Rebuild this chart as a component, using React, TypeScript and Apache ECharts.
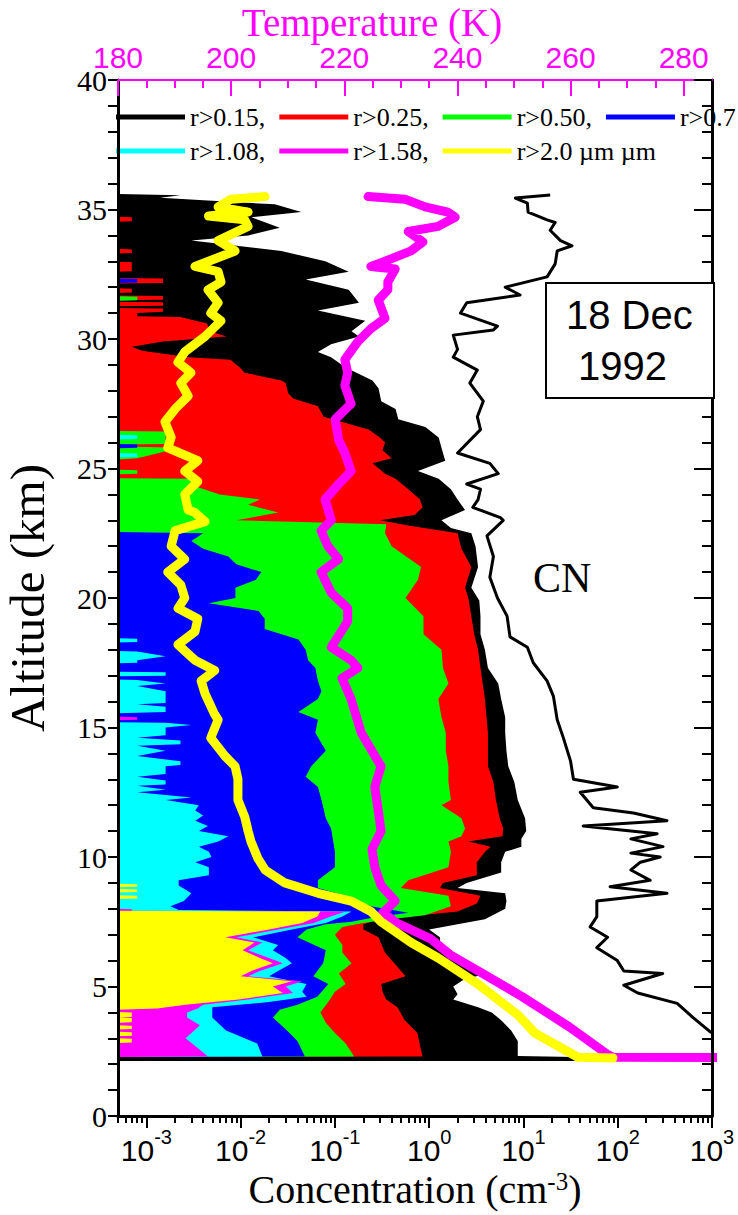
import React, { useEffect, useRef } from "react";
import * as echarts from "echarts";

const SERIF = "'Liberation Serif', 'Times New Roman', serif";
const SANS = "'Liberation Sans', Arial, sans-serif";

const X_MIN = 5e-4;
const X_MAX = 1000;
const T_MIN = 180;
const T_MAX = 285;

const tempMajorTicks = [180, 200, 220, 240, 260, 280];
const tempMinorTicks = [185, 190, 195, 205, 210, 215, 225, 230, 235, 245, 250, 255, 265, 270, 275];
const concMinorMultipliers = [2, 3, 4, 5, 6, 7, 8, 9];
const concDecadeStarts = [-4, -3, -2, -1, 0, 1, 2];

const legendRow1 = ["r>0.15,", "r>0.25,", "r>0.50,", "r>0.7"];
const legendRow2 = ["r>1.08,", "r>1.58,", "r>2.0 \u00b5m \u00b5m"];
const fillColors = ["#000000", "#ff0000", "#00ff00", "#0000ff", "#00ffff", "#ff00ff", "#ffff00"];

// [altitude km, concentration cm^-3]; 0 = no particles counted
const profR015 = [
  [35.6, 0], [35.55, 0.0023], [35.45, 0.0014], [35.2, 0.023], [34.9, 0.044], [34.7, 0.013], [34.3, 0.026],
  [34.0, 0.012], [33.8, 0.003], [33.4, 0.027], [33.0, 0.079], [32.6, 0.14], [32.3, 0.049], [31.9, 0.14],
  [31.4, 0.18], [31.1, 0.066], [30.7, 0.21], [30.3, 0.15], [30.1, 0.18], [29.8, 0.091], [29.5, 0.066],
  [29.3, 0.091], [28.9, 0.13], [28.4, 0.25], [28.1, 0.29], [27.6, 0.31], [27.3, 0.44], [26.9, 0.47],
  [26.6, 0.91], [26.2, 1.26], [25.8, 1.35], [25.3, 1.48], [24.9, 0.76], [24.6, 1.26], [24.2, 1.7],
  [23.8, 2.0], [23.4, 2.4], [23.0, 1.35], [22.7, 1.7], [22.5, 2.8], [22.0, 3.1], [21.2, 3.3], [20.4, 2.8],
  [19.9, 3.4], [19.3, 3.5], [18.6, 3.5], [18.0, 3.9], [17.3, 4.2], [16.7, 5.4], [16.1, 5.8], [15.4, 6.4],
  [14.8, 6.4], [14.1, 6.6], [13.5, 6.9], [12.9, 8.0], [12.2, 8.7], [11.5, 10.4], [11.0, 10.7], [10.7, 9.5],
  [10.4, 9.5], [10.2, 6.4], [9.8, 5.8], [9.4, 5.8], [9.0, 2.5], [8.8, 2.0], [8.6, 6.4], [8.3, 6.6],
  [8.0, 6.4], [7.6, 3.9], [7.4, 2.0], [7.2, 1.0], [6.9, 1.3], [6.7, 1.3], [6.3, 1.7], [5.9, 2.4],
  [5.5, 4.3], [5.3, 2.4], [5.0, 1.8], [4.7, 2.0], [4.5, 1.8], [4.2, 3.3], [4.0, 4.6], [3.7, 5.8],
  [3.3, 7.4], [2.9, 8.7], [2.32, 8.7], [2.28, 35], [2.12, 35],
];

const profR025 = [
  [35.6, 0], [34.72, 0], [34.7, 0.0007], [34.55, 0.0007], [34.53, 0], [33.48, 0], [33.46, 0.0007],
  [33.32, 0.0007], [33.3, 0], [32.98, 0], [32.96, 0.0007], [32.62, 0.0007], [32.6, 0], [32.36, 0],
  [32.34, 0.0015], [32.16, 0.0015], [32.14, 0], [31.96, 0], [31.94, 0.0007], [31.8, 0.0007], [31.78, 0],
  [31.68, 0], [31.66, 0.0015], [31.52, 0.0015], [31.5, 0], [31.44, 0], [31.42, 0.0015], [31.28, 0.0015],
  [31.26, 0], [31.2, 0], [31.18, 0.0015], [31.05, 0.0015], [31.0, 0.0008], [30.88, 0.0008],
  [30.85, 0.0023], [30.6, 0.0044], [30.3, 0.0047], [30.1, 0.0071], [29.9, 0.0015], [29.7, 0.0007],
  [29.55, 0.0009], [29.3, 0.0028], [29.2, 0.0078], [28.9, 0.0098], [28.7, 0.011], [28.4, 0.027],
  [28.3, 0.03], [27.9, 0.032], [27.7, 0.036], [27.4, 0.066], [27.0, 0.076], [26.8, 0.12], [26.5, 0.23],
  [26.2, 0.3], [26.0, 0.34], [25.7, 0.32], [25.4, 0.4], [25.2, 0.25], [24.8, 0.34], [24.6, 0.44],
  [24.2, 0.6], [23.8, 0.8], [23.5, 0.85], [23.2, 0.7], [23.0, 0.3], [22.8, 0.6], [22.5, 2.0], [21.9, 2.2],
  [21.2, 2.8], [20.4, 2.4], [20.0, 2.6], [19.3, 2.8], [18.6, 3.0], [18.0, 3.3], [17.3, 3.5], [16.1, 3.9],
  [14.8, 4.2], [13.5, 4.2], [12.9, 4.8], [12.2, 5.1], [11.5, 5.6], [11.1, 6.1], [10.8, 6.0], [10.6, 2.6],
  [10.4, 4.5], [10.2, 3.9], [9.8, 3.2], [9.3, 3.2], [9.0, 1.4], [8.8, 1.3], [8.5, 3.5], [8.2, 3.2],
  [7.9, 2.0], [7.7, 0.6], [7.6, 0.3], [7.4, 0.2], [7.2, 0.2], [6.9, 0.29], [6.3, 0.34], [5.8, 0.45],
  [5.4, 0.56], [5.1, 0.31], [4.8, 0.32], [4.5, 0.35], [4.2, 0.46], [3.7, 0.55], [3.2, 0.75], [2.7, 0.8],
  [2.3, 0.85], [2.28, 0],
];

const profR050 = [
  [35.6, 0], [31.65, 0], [31.63, 0.0008], [31.5, 0.0008], [31.48, 0], [26.45, 0], [26.43, 0.0016],
  [25.95, 0.0016], [25.93, 0.0006], [25.85, 0.0006], [25.8, 0.0023], [25.4, 0.0008], [25.35, 0],
  [24.95, 0], [24.93, 0.0008], [24.8, 0.0008], [24.78, 0], [24.62, 0], [24.6, 0.003], [24.3, 0.0034],
  [24.0, 0.006], [23.8, 0.016], [23.6, 0.012], [23.3, 0.025], [23.0, 0.009], [22.85, 0.35], [22.5, 0.34],
  [22.0, 0.4], [21.2, 0.82], [20.7, 0.76], [20.0, 0.56], [19.3, 0.87], [18.6, 0.87], [18.0, 1.35],
  [17.3, 1.4], [16.7, 1.6], [16.1, 1.25], [15.4, 1.35], [14.8, 1.5], [14.1, 1.5], [13.5, 1.6],
  [12.9, 1.6], [12.2, 1.7], [12.0, 1.35], [11.5, 2.2], [11.1, 2.4], [10.8, 2.2], [10.6, 1.6], [10.2, 1.7],
  [9.6, 1.6], [9.1, 0.6], [8.8, 0.5], [8.5, 1.6], [8.1, 1.7], [7.75, 0.9], [7.55, 0.3], [7.45, 0.2],
  [7.3, 0.12], [7.0, 0.1], [6.6, 0.12], [6.3, 0.12], [5.9, 0.15], [5.5, 0.11], [5.1, 0.13], [4.8, 0.1],
  [4.4, 0.085], [4.0, 0.07], [3.6, 0.08], [3.2, 0.1], [2.8, 0.13], [2.3, 0.16], [2.28, 0],
];

const profR070 = [
  [35.6, 0], [32.34, 0], [32.32, 0.0008], [32.18, 0.0008], [32.16, 0], [25.95, 0], [25.93, 0.0008],
  [25.8, 0.0008], [25.78, 0], [22.55, 0], [22.5, 0.004], [22.2, 0.003], [21.9, 0.004], [21.6, 0.0074],
  [21.3, 0.009], [21.0, 0.0166], [20.7, 0.0145], [20.4, 0.0088], [20.0, 0.0088], [19.8, 0.0046],
  [19.5, 0.0155], [19.2, 0.018], [18.8, 0.018], [18.4, 0.041], [18.0, 0.049], [17.6, 0.052], [17.3, 0.062],
  [16.8, 0.066], [16.4, 0.072], [16.1, 0.066], [15.6, 0.041], [15.3, 0.066], [14.8, 0.062], [14.1, 0.08],
  [13.5, 0.056], [13.1, 0.049], [12.7, 0.066], [12.2, 0.072], [11.5, 0.08], [11.1, 0.091], [10.7, 0.095],
  [10.2, 0.1], [9.6, 0.1], [9.1, 0.066], [8.8, 0.066], [8.5, 0.13], [8.1, 0.24], [7.85, 0.6], [7.65, 0.25],
  [7.5, 0.15], [7.4, 0.08], [7.2, 0.05], [6.9, 0.04], [6.4, 0.08], [5.9, 0.075], [5.4, 0.059], [5.1, 0.085],
  [4.6, 0.065], [4.3, 0.04], [4.1, 0.026], [3.8, 0.022], [3.3, 0.031], [2.9, 0.04], [2.3, 0.048], [2.28, 0],
];

const profR108 = [
  [35.6, 0], [26.3, 0], [26.28, 0.0008], [26.14, 0.0008], [26.12, 0], [25.6, 0], [25.58, 0.0008],
  [25.44, 0.0008], [25.42, 0], [18.45, 0], [18.43, 0.0008], [18.3, 0.0008], [18.28, 0], [17.95, 0],
  [17.93, 0.0008], [17.75, 0.0016], [17.6, 0.0008], [17.5, 0.0008], [17.48, 0], [17.15, 0], [17.13, 0.0016],
  [17.0, 0.0016], [16.98, 0], [16.85, 0], [16.83, 0.0008], [16.7, 0.0016], [16.6, 0.0008], [16.4, 0.0016],
  [16.2, 0.0016], [15.95, 0.0016], [15.9, 0.0008], [15.8, 0.0016], [15.6, 0.0016], [15.55, 0], [15.2, 0],
  [15.18, 0.0016], [15.1, 0.003], [15.0, 0.0016], [14.7, 0.0016], [14.6, 0.0008], [14.5, 0.0023],
  [14.35, 0.0023], [14.3, 0.0008], [14.1, 0.0016], [13.9, 0.0008], [13.7, 0.0023], [13.55, 0.0023],
  [13.5, 0.0016], [13.2, 0.0016], [13.1, 0.0008], [12.95, 0.0016], [12.8, 0.0016], [12.75, 0.0008],
  [12.6, 0.0016], [12.5, 0.0008], [12.3, 0.003], [12.2, 0.0016], [12.0, 0.0036], [11.8, 0.0033],
  [11.6, 0.004], [11.4, 0.0033], [11.2, 0.0045], [11.0, 0.0036], [10.8, 0.0074], [10.6, 0.0058],
  [10.4, 0.0036], [10.2, 0.0046], [10.0, 0.0049], [9.8, 0.0033], [9.6, 0.0046], [9.3, 0.0046],
  [9.1, 0.0022], [8.9, 0.0022], [8.6, 0.003], [8.3, 0.0025], [8.1, 0.0018], [7.95, 0.0022], [7.9, 0.15],
  [7.7, 0.12], [7.45, 0.08], [7.2, 0.035], [6.9, 0.0136], [6.6, 0.025], [6.4, 0.022], [6.1, 0.03],
  [5.9, 0.035], [5.6, 0.025], [5.4, 0.02], [5.1, 0.05], [4.8, 0.045], [4.6, 0.05], [4.4, 0.02], [4.2, 0.005],
  [3.8, 0.005], [3.3, 0.007], [2.8, 0.015], [2.3, 0.017], [2.28, 0],
];

const profR158 = [
  [35.6, 0], [15.42, 0], [15.4, 0.0008], [15.3, 0.0008], [15.28, 0], [8.0, 0], [7.98, 0.0007],
  [7.92, 0.0007], [7.9, 0.13], [7.7, 0.09], [7.45, 0.06], [7.2, 0.025], [6.9, 0.009], [6.7, 0.017],
  [6.4, 0.012], [6.1, 0.02], [5.9, 0.028], [5.6, 0.016], [5.4, 0.012], [5.2, 0.045], [5.0, 0.03],
  [4.75, 0.036], [4.5, 0.012], [4.3, 0.004], [4.15, 0.0035], [4.0, 0.0027], [3.8, 0.0027], [3.5, 0.0037],
  [3.2, 0.003], [3.0, 0.0026], [2.7, 0.0033], [2.3, 0.0045], [2.28, 0],
];

const profR200 = [
  [35.6, 0], [8.97, 0], [8.95, 0.0008], [8.85, 0.0008], [8.83, 0], [8.77, 0], [8.75, 0.0008],
  [8.65, 0.0008], [8.63, 0], [8.52, 0], [8.5, 0.0008], [8.4, 0.0008], [8.38, 0], [7.92, 0], [7.9, 0.07],
  [7.7, 0.065], [7.45, 0.045], [7.2, 0.02], [6.9, 0.0069], [6.7, 0.014], [6.4, 0.0105], [6.1, 0.016],
  [5.9, 0.022], [5.6, 0.013], [5.4, 0.01], [5.2, 0.035], [5.0, 0.022], [4.75, 0.028], [4.5, 0.0095],
  [4.3, 0.0026], [4.15, 0.0013], [4.1, 0], [4.02, 0], [4.0, 0.0007], [3.82, 0.0007], [3.8, 0],
  [3.78, 0.0007], [3.62, 0.0007], [3.6, 0], [3.5, 0], [3.48, 0.0007], [3.36, 0.0007], [3.34, 0], [3.25, 0],
  [3.23, 0.0007], [3.1, 0.0007], [3.08, 0], [3.0, 0], [2.98, 0.0007], [2.84, 0.0007], [2.82, 0],
];

// CN concentration [altitude km, cm^-3]
const profCN = [
  [35.56, 19.2], [35.44, 8.2], [35.25, 11], [34.9, 11.2], [34.6, 17.8], [34.5, 21.7], [34.2, 19.2],
  [33.8, 24.7], [33.6, 32.8], [33.4, 22.8], [32.9, 21.7], [32.4, 17.8], [32.0, 6.4], [31.7, 9.2],
  [31.4, 2.5], [31.0, 2.15], [30.5, 5.3], [30.35, 4.8], [30.15, 1.8], [29.6, 2.0], [29.3, 1.8],
  [28.8, 3.24], [28.3, 2.7], [27.6, 3.75], [27.0, 3.24], [26.5, 3.5], [25.6, 2.0], [25.2, 4.4],
  [24.8, 5.4], [24.4, 2.5], [24.2, 3.5], [23.8, 3.3], [23.5, 2.9], [23.1, 5.7], [23.0, 6.1], [22.4, 4.1],
  [21.6, 4.8], [20.8, 4.4], [20.0, 5.3], [19.3, 6.7], [18.5, 7.2], [18.1, 11], [17.5, 12.7], [16.8, 17.8],
  [16.2, 20.8], [15.3, 22.8], [14.6, 26.5], [13.7, 31.6], [13.0, 33.9], [12.7, 99], [12.5, 40],
  [11.9, 55], [11.7, 147], [11.4, 333], [11.2, 43], [10.9, 262], [10.7, 138], [10.4, 302], [10.15, 138],
  [10.0, 282], [9.8, 174], [9.5, 138], [9.1, 221], [8.85, 83], [8.6, 333], [8.3, 60], [7.7, 60],
  [7.3, 51], [6.9, 78], [6.5, 60], [6.0, 99], [5.6, 116], [5.5, 300], [5.05, 116], [4.75, 163],
  [4.35, 427], [3.8, 630], [3.25, 960], [2.75, 2000], [2.3, 3000],
];

// Temperature-axis profiles [altitude km, K]
const tempMagenta = [
  [35.5, 224.2], [35.4, 230.7], [35.1, 234.3], [34.9, 238.3], [34.7, 239.6], [34.35, 236.6], [34.15, 231.3],
  [33.75, 233.9], [33.4, 231.8], [33.0, 227.2], [32.8, 224.7], [32.7, 229.0], [32.2, 227.7], [31.9, 227.7],
  [31.5, 226.0], [30.8, 227.2], [30.4, 224.7], [29.9, 222.4], [29.2, 220.1], [28.7, 220.6], [28.2, 220.1],
  [27.5, 221.2], [26.9, 218.4], [26.1, 219.0], [25.6, 220.1], [24.9, 221.2], [24.4, 219.0], [23.8, 216.6],
  [23.0, 217.7], [22.6, 215.9], [22.0, 217.1], [21.5, 219.0], [21.0, 215.9], [20.2, 217.7], [19.6, 220.6],
  [19.1, 220.6], [18.1, 217.7], [17.6, 221.2], [17.3, 222.4], [16.9, 219.6], [16.1, 221.2], [14.8, 223.0],
  [13.5, 226.5], [12.7, 225.4], [11.8, 226.0], [11.0, 226.5], [10.3, 224.9], [9.6, 225.4], [8.9, 226.5],
  [8.3, 229.0], [7.85, 226.8], [7.45, 229.3], [6.85, 235.2], [6.2, 238.9], [5.5, 244.5], [4.6, 251.5],
  [3.45, 259.7], [2.4, 266.4], [2.27, 267.5], [2.25, 320],
];

const tempYellow = [
  [35.5, 206.0], [35.4, 200.0], [35.1, 197.7], [34.9, 203.0], [34.75, 196.0], [34.6, 202.4], [34.35, 203.0],
  [33.8, 197.7], [33.4, 200.7], [32.8, 193.6], [32.6, 197.7], [32.2, 198.2], [31.9, 195.9], [31.4, 197.7],
  [31.0, 196.4], [30.7, 198.2], [30.1, 195.4], [29.5, 191.8], [29.1, 190.6], [28.7, 192.9], [28.3, 191.1],
  [27.8, 192.4], [27.3, 190.1], [26.8, 188.3], [26.2, 189.4], [25.8, 188.8], [25.3, 194.1], [24.9, 191.8],
  [24.5, 194.1], [24.0, 191.8], [23.4, 192.4], [23.3, 193.6], [22.95, 195.4], [22.6, 190.1], [22.0, 189.4],
  [21.5, 191.8], [21.0, 188.8], [20.5, 191.1], [20.0, 191.8], [19.6, 190.6], [19.2, 194.1], [18.7, 193.6],
  [18.2, 190.6], [17.6, 193.6], [17.2, 197.1], [16.8, 194.7], [16.3, 195.4], [15.5, 197.1], [15.3, 197.7],
  [14.6, 196.4], [13.9, 198.9], [13.5, 200.7], [13.0, 201.2], [12.2, 201.2], [11.55, 202.4], [11.0, 203.0],
  [10.6, 203.5], [9.96, 204.7], [9.5, 206.0], [9.0, 209.5], [8.6, 215.4], [8.3, 221.2], [7.9, 224.7],
  [7.5, 226.5], [6.7, 231.8], [6.1, 236.6], [5.1, 243.6], [3.9, 250.7], [3.2, 253.7], [2.55, 259.0],
  [2.27, 261.3], [2.24, 267.5],
];

const fillProfiles = [profR015, profR025, profR050, profR070, profR108, profR158, profR200];
const fillNames = [...legendRow1, ...legendRow2];

export default function App() {
  const ref = useRef<HTMLDivElement>(null);

  useEffect(() => {
    if (!ref.current) return;
    const chart = echarts.init(ref.current, null, { renderer: "svg", width: 738, height: 1215 });

    const logMin = Math.log10(X_MIN);
    const concMinorLogs: number[] = [];
    concDecadeStarts.forEach((d) => {
      concMinorMultipliers.forEach((m) => {
        const v = Math.log10(m) + d;
        if (v >= logMin - 1e-9 && v <= 3) concMinorLogs.push(v);
      });
    });

    const fillSeries = fillProfiles.map((prof, i) => ({
      type: "custom",
      name: fillNames[i],
      xAxisIndex: 0,
      yAxisIndex: 0,
      silent: true,
      z: 2 + i * 0.01,
      itemStyle: { color: fillColors[i] },
      data: [[1, 10]],
      renderItem: (params: any, api: any) => {
        const pts: number[][] = [];
        pts.push(api.coord([X_MIN, prof[0][0]]));
        prof.forEach(([alt, v]) => pts.push(api.coord([Math.max(v, X_MIN), alt])));
        pts.push(api.coord([X_MIN, prof[prof.length - 1][0]]));
        return { type: "polygon", shape: { points: pts }, style: { fill: fillColors[i], stroke: null } };
      },
    }));

    const legendBase = {
      left: 116,
      itemWidth: 69,
      itemHeight: 5,
      itemGap: 14,
      padding: 0,
      width: 640,
      selectedMode: false,
      textStyle: { fontFamily: SERIF, fontSize: 26, color: "#000" },
    };

    const gridRect = { left: 118, right: 26, top: 80, bottom: 99, containLabel: false, outerBoundsMode: "none" };

    const option: any = {
      animation: false,
      backgroundColor: "#ffffff",
      grid: [{ ...gridRect }, { ...gridRect }],
      legend: [
        {
          ...legendBase,
          top: 104,
          data: legendRow1.map((n, i) => ({ name: n, icon: "rect", itemStyle: { color: fillColors[i] } })),
        },
        {
          ...legendBase,
          top: 138,
          data: legendRow2.map((n, i) => ({ name: n, icon: "rect", itemStyle: { color: fillColors[i + 4] } })),
        },
      ],
      xAxis: [
        {
          gridIndex: 0,
          type: "log",
          logBase: 10,
          min: X_MIN,
          max: X_MAX,
          position: "bottom",
          z: 10,
          name: "{t|Concentration (cm}{s|-3}{t|)}",
          nameLocation: "middle",
          nameMoveOverlap: false,
          nameGap: 53,
          nameTextStyle: {
            rich: {
              t: { fontFamily: SERIF, fontSize: 40, color: "#000", lineHeight: 40 },
              s: { fontFamily: SERIF, fontSize: 25, color: "#000", verticalAlign: "top", lineHeight: 40 },
            },
          },
          axisLine: { show: true, onZero: false, lineStyle: { color: "#000", width: 3 } },
          axisTick: { show: true, inside: false, length: 12, lineStyle: { color: "#000", width: 2 } },
          minorTick: { show: false },
          splitLine: { show: false },
          axisLabel: {
            showMinLabel: false,
            margin: 11,
            formatter: (v: number) => `{b|10}{s|${Math.round(Math.log10(v))}}`,
            rich: {
              b: { fontFamily: SANS, fontSize: 30, color: "#000", lineHeight: 38, verticalAlign: "bottom" },
              s: { fontFamily: SANS, fontSize: 20, color: "#000", lineHeight: 38, verticalAlign: "top" },
            },
          },
        },
        {
          gridIndex: 0,
          type: "value",
          min: T_MIN,
          max: T_MAX,
          position: "top",
          z: 10,
          name: "Temperature (K)",
          nameLocation: "middle",
          nameMoveOverlap: false,
          nameGap: 40,
          nameTextStyle: { fontFamily: SERIF, fontSize: 39, lineHeight: 36, color: "#ff00ff", padding: [0, 86, 0, 0] },
          axisLine: { show: true, onZero: false, lineStyle: { color: "#ff00ff", width: 2 } },
          axisTick: {
            show: true,
            inside: true,
            length: 16,
            customValues: tempMajorTicks,
            lineStyle: { color: "#ff00ff", width: 2 },
          },
          splitLine: { show: false },
          axisLabel: {
            customValues: tempMajorTicks,
            margin: 8,
            fontFamily: SANS,
            fontSize: 30,
            lineHeight: 30,
            color: "#ff00ff",
          },
        },
        {
          gridIndex: 1,
          type: "value",
          min: logMin,
          max: 3,
          position: "bottom",
          z: 10,
          axisLine: { show: false, onZero: false },
          axisTick: { show: true, inside: false, length: 7, customValues: concMinorLogs, lineStyle: { color: "#000", width: 2 } },
          axisLabel: { show: false },
          splitLine: { show: false },
        },
        {
          gridIndex: 1,
          type: "value",
          min: T_MIN,
          max: T_MAX,
          position: "top",
          z: 10,
          axisLine: { show: false, onZero: false },
          axisTick: { show: true, inside: true, length: 8, customValues: tempMinorTicks, lineStyle: { color: "#ff00ff", width: 2 } },
          axisLabel: { show: false },
          splitLine: { show: false },
        },
      ],
      yAxis: [
        {
          gridIndex: 0,
          type: "value",
          min: 0,
          max: 40,
          interval: 5,
          position: "left",
          z: 10,
          name: "Altitude (km)",
          nameLocation: "middle",
          nameRotate: 90,
          nameGap: 66,
          nameTextStyle: { fontFamily: SERIF, fontSize: 49, color: "#000" },
          axisLine: { show: true, onZero: false, lineStyle: { color: "#000", width: 3 } },
          axisTick: { show: true, inside: false, length: 10, lineStyle: { color: "#000", width: 2 } },
          minorTick: { show: true, splitNumber: 5, length: 10, lineStyle: { color: "#000", width: 2 } },
          splitLine: { show: false },
          axisLabel: { margin: 11, fontFamily: SERIF, fontSize: 30, color: "#000" },
        },
        {
          gridIndex: 0,
          type: "value",
          min: 0,
          max: 40,
          interval: 5,
          position: "right",
          z: 10,
          axisLine: { show: true, onZero: false, lineStyle: { color: "#000", width: 3 } },
          axisTick: { show: true, inside: true, length: 18, lineStyle: { color: "#000", width: 2 } },
          minorTick: { show: true, splitNumber: 5, length: 10, lineStyle: { color: "#000", width: 2 } },
          splitLine: { show: false },
          axisLabel: { show: false },
        },
        {
          gridIndex: 1,
          type: "value",
          min: 0,
          max: 40,
          show: false,
          axisLine: { show: false, onZero: false },
          axisTick: { show: false },
          axisLabel: { show: false },
          splitLine: { show: false },
        },
      ],
      series: [
        ...fillSeries,
        {
          type: "line",
          name: "CN",
          xAxisIndex: 0,
          yAxisIndex: 0,
          data: profCN.map(([a, c]) => [c, a]),
          showSymbol: false,
          symbol: "none",
          clip: true,
          z: 4,
          lineStyle: { color: "#000", width: 3, join: "round" },
        },
        {
          type: "line",
          name: "T magenta",
          xAxisIndex: 1,
          yAxisIndex: 0,
          data: tempMagenta.map(([a, t]) => [t, a]),
          showSymbol: false,
          symbol: "none",
          clip: true,
          z: 5,
          lineStyle: { color: "#ff00ff", width: 9, cap: "round", join: "round" },
        },
        {
          type: "line",
          name: "T yellow",
          xAxisIndex: 1,
          yAxisIndex: 0,
          data: tempYellow.map(([a, t]) => [t, a]),
          showSymbol: false,
          symbol: "none",
          clip: true,
          z: 6,
          lineStyle: { color: "#ffff00", width: 9, cap: "round", join: "round" },
        },
      ],
      graphic: [
        {
          type: "rect",
          z: 100,
          shape: { x: 546, y: 283, width: 168, height: 115 },
          style: { fill: "#fff", stroke: "#000", lineWidth: 2 },
        },
        {
          type: "text",
          z: 101,
          style: { text: "18 Dec", x: 566, y: 315, fontFamily: SANS, fontSize: 40, fill: "#000", align: "left", verticalAlign: "middle" },
        },
        {
          type: "text",
          z: 101,
          style: { text: "1992", x: 578, y: 366, fontFamily: SANS, fontSize: 40, fill: "#000", align: "left", verticalAlign: "middle" },
        },
        {
          type: "text",
          z: 101,
          style: { text: "CN", x: 533, y: 578, fontFamily: SERIF, fontSize: 42, fill: "#000", align: "left", verticalAlign: "middle" },
        },
      ],
    };

    chart.setOption(option);
    return () => chart.dispose();
  }, []);

  return (
    <div
      ref={ref}
      style={{ position: "absolute", left: 0, top: 0, width: 738, height: 1215, background: "#fff" }}
    />
  );
}
